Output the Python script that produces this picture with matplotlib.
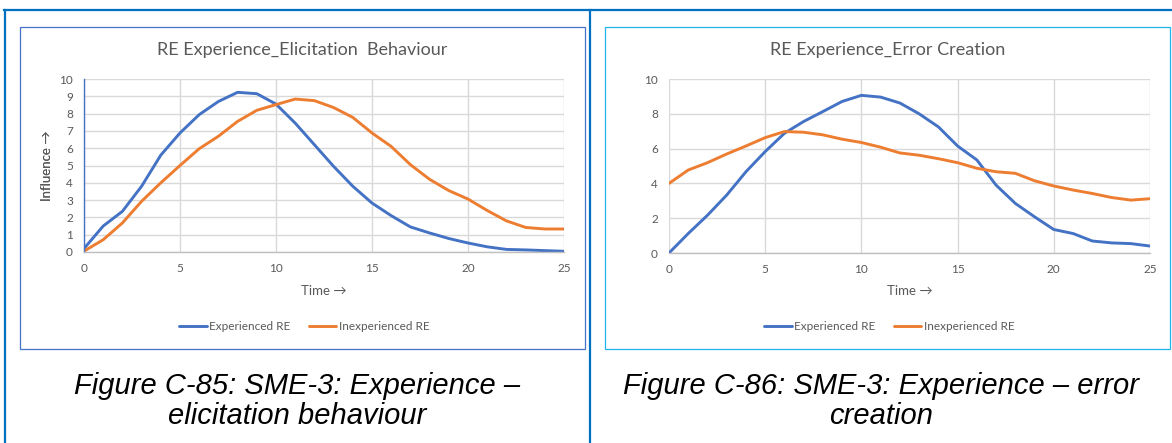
import matplotlib
matplotlib.use("Agg")
import matplotlib.pyplot as plt
from matplotlib.lines import Line2D
from matplotlib.patches import Rectangle

# data
time = list(range(26))

elic_experienced = [0.2, 1.5, 2.35, 3.8, 5.6, 6.88, 7.94, 8.7, 9.23, 9.15, 8.55, 7.45, 6.2,
                    4.95, 3.8, 2.83, 2.1, 1.45, 1.1, 0.78, 0.52, 0.3, 0.15, 0.12, 0.08, 0.04]
elic_inexperienced = [0.05, 0.71, 1.68, 2.93, 4.0, 5.0, 5.97, 6.69, 7.55, 8.19, 8.52, 8.84, 8.75,
                      8.35, 7.78, 6.88, 6.1, 5.05, 4.2, 3.55, 3.06, 2.4, 1.8, 1.42, 1.33, 1.33]

err_experienced = [0.0, 1.12, 2.17, 3.33, 4.67, 5.83, 6.88, 7.56, 8.13, 8.71, 9.06, 8.96, 8.62,
                   8.0, 7.25, 6.15, 5.35, 3.9, 2.85, 2.08, 1.35, 1.12, 0.69, 0.58, 0.54, 0.4]
err_inexperienced = [4.0, 4.77, 5.19, 5.69, 6.15, 6.63, 6.98, 6.94, 6.79, 6.54, 6.35, 6.08, 5.75,
                     5.62, 5.42, 5.19, 4.87, 4.67, 4.58, 4.15, 3.85, 3.62, 3.42, 3.19, 3.04, 3.12]

titles = ["RE Experience_Elicitation  Behaviour", "RE Experience_Error Creation"]
captions = ["Figure C-85: SME-3: Experience \u2013\nelicitation behaviour",
            "Figure C-86: SME-3: Experience \u2013 error\ncreation"]
series_names = ["Experienced RE", "Inexperienced RE"]

BLUE = "#4472C4"
ORANGE = "#ED7D31"
GREY_TXT = "#595959"
GRID = "#D9D9D9"
FONT = ["Lato", "DejaVu Sans"]

W, H = 1172, 443
fig = plt.figure(figsize=(W / 100, H / 100), dpi=100)


def fx(x):
    return x / W


def fy(y):
    return 1 - y / H


def hline(x0, x1, y, color, lw):
    fig.add_artist(Line2D([fx(x0), fx(x1)], [fy(y), fy(y)], color=color, lw=lw,
                          transform=fig.transFigure))


def vline(x, y0, y1, color, lw):
    fig.add_artist(Line2D([fx(x), fx(x)], [fy(y0), fy(y1)], color=color, lw=lw,
                          transform=fig.transFigure))


# table borders
hline(4, W, 10, "#0070C0", 1.6)
vline(5, 10, H, "#0070C0", 1.6)
vline(590, 10, H, "#0070C0", 1.6)

panels = [
    dict(box=(19.5, 26.5, 585, 348.5), boxcol="#4472C4", plot=(84, 79, 564, 252),
         data=(elic_experienced, elic_inexperienced), ystep=1, leftspine=BLUE, panel=(5, 590)),
    dict(box=(604.5, 26.5, 1170, 348.5), boxcol="#1FB5F0", plot=(669, 79, 1150, 253),
         data=(err_experienced, err_inexperienced), ystep=2, leftspine=None, panel=(590, 1172)),
]

for i, p in enumerate(panels):
    bx0, by0, bx1, by1 = p["box"]
    fig.add_artist(Rectangle((fx(bx0), fy(by1)), fx(bx1 - bx0), (by1 - by0) / H,
                             fill=False, edgecolor=p["boxcol"], lw=0.9,
                             transform=fig.transFigure))
    px0, py0, px1, py1 = p["plot"]
    ax = fig.add_axes([fx(px0), fy(py1), fx(px1 - px0), (py1 - py0) / H])
    exp, inexp = p["data"]
    ax.plot(time, exp, color=BLUE, lw=2.1, label=series_names[0], solid_capstyle="round")
    ax.plot(time, inexp, color=ORANGE, lw=2.1, label=series_names[1], solid_capstyle="round")
    ax.set_xlim(0, 25)
    ax.set_ylim(0, 10)
    ax.set_xticks(range(0, 26, 5))
    ax.set_yticks(range(0, 11, p["ystep"]))
    ax.grid(True, color=GRID, lw=1.0)
    ax.set_axisbelow(True)
    for s in ["top", "right"]:
        ax.spines[s].set_visible(False)
    ax.spines["bottom"].set_color("#BFBFBF")
    ax.spines["bottom"].set_linewidth(1.0)
    if p["leftspine"]:
        ax.spines["left"].set_color(p["leftspine"])
        ax.spines["left"].set_linewidth(1.0)
    else:
        ax.spines["left"].set_visible(False)
    ax.tick_params(length=0, labelsize=8.5, labelcolor=GREY_TXT)
    ax.tick_params(axis="x", pad=8)
    ax.tick_params(axis="y", pad=8)
    for lab in ax.get_xticklabels() + ax.get_yticklabels():
        lab.set_family(FONT)

    cx = (bx0 + bx1) / 2
    fig.text(fx(cx), fy(50), titles[i], ha="center", va="center", fontsize=13,
             color=GREY_TXT, family=FONT)
    fig.text(fx((px0 + px1) / 2), fy(291), "Time \u2192", ha="center", va="center",
             fontsize=9.5, color=GREY_TXT, family=FONT)
    fig.text(fx(47), fy((py0 + py1) / 2), "Influence \u2192", ha="center", va="center",
             rotation=90, fontsize=9.5, color=GREY_TXT, family=FONT)

    leg = ax.legend(loc="center", bbox_to_anchor=(fx(cx + 2), fy(327)),
                    bbox_transform=fig.transFigure, ncol=2, frameon=False,
                    handlelength=2.3, handletextpad=0.2, columnspacing=1.6,
                    prop={"family": FONT, "size": 8.5})
    for t in leg.get_texts():
        t.set_color(GREY_TXT)

    cap_x = sum(p["panel"]) / 2
    fig.text(fx(cap_x), fy(401), captions[i], ha="center", va="center", fontsize=21,
             style="italic", family=["Liberation Sans", "DejaVu Sans"], color="black",
             linespacing=1.05)

fig.savefig("out.png", dpi=100)
